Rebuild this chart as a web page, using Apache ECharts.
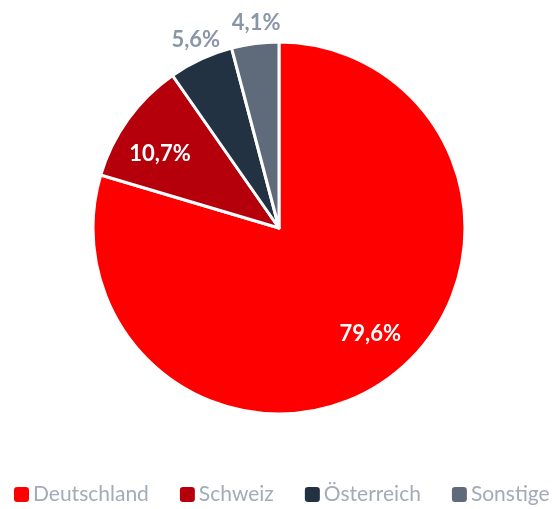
<!DOCTYPE html>
<html><head><meta charset="utf-8">
<script src="https://cdn.jsdelivr.net/npm/echarts@6/dist/echarts.min.js"></script>
<style>html,body{margin:0;padding:0;background:#fff}#c{width:554px;height:509px}</style>
</head><body><div id="c"></div>
<script>
const categories = ['Deutschland', 'Schweiz', 'Österreich', 'Sonstige'];
const values = [79.6, 10.7, 5.6, 4.1];
const colors = ['#ff0000', '#b5000b', '#233243', '#5f6b7a'];
const insideLabel = [true, true, false, false];

const fmt = p => p.value.toFixed(1).replace('.', ',') + '%';
const FONT = 'Lato';

const chart = echarts.init(document.getElementById('c'));
chart.setOption({
  animation: false,
  color: colors,
  legend: {
    top: 484, left: 12, width: 600, padding: 0,
    itemWidth: 17, itemHeight: 17, itemGap: 29,
    icon: 'roundRect',
    textStyle: { fontFamily: FONT, fontSize: 21, color: '#a3abb7', padding: [0, 0, 0, -2] },
    data: categories
  },
  series: [
    {
      type: 'pie', center: [279, 228], radius: 186, startAngle: 90, clockwise: true,
      itemStyle: { borderColor: '#fff', borderWidth: 3 },
      label: { show: false }, labelLine: { show: false }, silent: true,
      data: categories.map((n, i) => ({ name: n, value: values[i] }))
    },
    {
      type: 'pie', center: [279, 228], radius: [88, 186], startAngle: 94, clockwise: true,
      itemStyle: { color: 'transparent', borderWidth: 0 }, silent: true, labelLine: { show: false },
      label: { show: true, position: 'inside', formatter: fmt, fontFamily: FONT, fontWeight: 'bold', fontSize: 22, color: '#fff' },
      data: categories.map((n, i) => ({ name: n, value: values[i], label: { show: insideLabel[i] } }))
    },
    {
      type: 'pie', center: [279, 228], radius: [186, 220], startAngle: 89, clockwise: true,
      itemStyle: { color: 'transparent', borderWidth: 0 }, silent: true, labelLine: { show: false },
      label: { show: true, position: 'inside', formatter: fmt, fontFamily: FONT, fontWeight: 'bold', fontSize: 22, color: '#8996a9' },
      data: categories.map((n, i) => ({ name: n, value: values[i], label: { show: !insideLabel[i] } }))
    }
  ]
});
</script></body></html>
